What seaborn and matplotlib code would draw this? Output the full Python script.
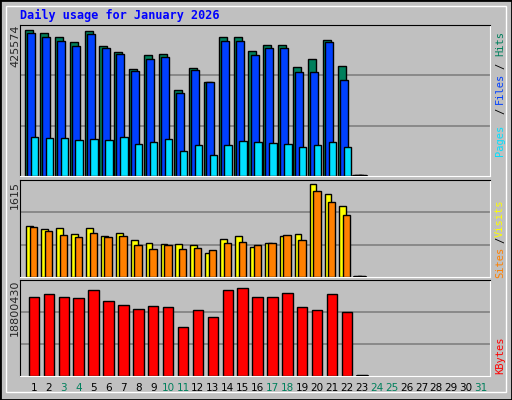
import numpy as np
import pandas as pd
import matplotlib
matplotlib.use('Agg')
import matplotlib.pyplot as plt
import seaborn as sns

days = list(range(1, 32))
hits = [421232, 412547, 403861, 389385, 418337, 377804, 360433, 311217, 348855, 354645,
        248982, 314112, 273579, 403861, 403861, 363328, 380699, 380699, 316007, 339168,
        395175, 319902, 0]
files = [412547, 403861, 392280, 377804, 409652, 371014, 354645, 305427, 340063, 345853,
         240297, 308322, 272384, 392280, 392280, 350763, 369493, 369493, 300217, 300217,
         389385, 277474, 0]
pages = [112917, 110022, 110022, 104232, 107127, 104232, 112917, 92651, 98441, 107127,
         72389, 89756, 60804, 89756, 101336, 98441, 95546, 92651, 83966, 89756,
         98441, 83966, 0]
visits = [885, 833, 851, 747, 851, 712, 764, 642, 590, 573, 573, 555, 417, 660, 712, 521,
          590, 712, 747, 1615, 1441, 1233, 0]
sites = [868, 799, 729, 694, 764, 694, 712, 555, 486, 555, 486, 503, 469, 590, 608, 555,
         590, 729, 642, 1494, 1302, 1077, 0]
kbytes = [16230000, 16762000, 16054000, 15876000, 17649000, 15345000, 14458000, 13749000,
          14281000, 14104000, 10026000, 13395000, 11977000, 17649000, 18000430, 16054000,
          16054000, 16940000, 14104000, 13395000, 16762000, 13040000, 0]
weekend = [3, 4, 10, 11, 17, 18, 24, 25, 31]

sns.set_style('white')
plt.rcParams['font.family'] = ['DejaVu Sans Mono', 'DejaVu Sans']

BG = '#C0C0C0'
fig = plt.figure(figsize=(5.12, 4.0), dpi=100, facecolor=BG)
# bevelled frame
fig.add_artist(plt.Rectangle((0, 0), 1, 1, transform=fig.transFigure, fill=False,
                             edgecolor='black', lw=2))
fig.add_artist(plt.Rectangle((0.012, 0.02), 0.976, 0.965, transform=fig.transFigure,
                             fill=False, edgecolor='white', lw=1))
fig.text(20 / 512, 1 - 15 / 400, 'Daily usage for January 2026', color='#0000FF',
         fontsize=8.5, fontweight='bold', va='center', ha='left')


def make_ax(top, bottom):
    ax = fig.add_axes([20 / 512, 1 - bottom / 400, 470 / 512, (bottom - top) / 400])
    ax.set_facecolor(BG)
    ax.set_xlim(0.06, 31.6)
    for s in ['left', 'top']:
        ax.spines[s].set_color('black')
    for s in ['right', 'bottom']:
        ax.spines[s].set_color('white')
    ax.set_xticks([])
    ax.set_yticks([])
    return ax


def gridlines(ax, top):
    for f in (1 / 3, 2 / 3):
        ax.axhline(top * f, color='#808080', lw=1.2, zorder=0)


def add_bars(ax, vals, off, width, color):
    n = len(vals)
    x = np.array(days[:n]) + off
    for xi, v in zip(x, vals):
        if v == 0:
            ax.plot([xi - width / 2, xi + width / 2], [0, 0], color='black', lw=2.5, zorder=3)
    ax.bar(x, vals, width=width, color=color, edgecolor='black', linewidth=1, align='center', zorder=2)


def side(y, s, color='black'):
    fig.text(500 / 512, 1 - y / 400, s, rotation=90, color=color, fontsize=7.5,
             va='center', ha='center')


def left(y, s):
    fig.text(15 / 512, 1 - y / 400, s, rotation=90, fontsize=8, va='center', ha='center',
             family='DejaVu Sans')


# panel 1: hits/files/pages
ax1 = make_ax(25, 176)
top1 = 425574 * 151 / 147
ax1.set_ylim(0, top1)
gridlines(ax1, top1)
add_bars(ax1, hits, -0.34, 0.54, '#00805C')
add_bars(ax1, files, -0.2, 0.54, '#0040FF')
add_bars(ax1, pages, 0.03, 0.5, '#00E0FF')
left(46, '425574')
side(140, 'Pages', '#00E0FF')
side(111, '/')
side(88, 'Files', '#0040FF')
side(66, '/')
side(43, 'Hits', '#00805C')

# panel 2: visits/sites
ax2 = make_ax(180, 277)
top2 = 1615 * 97 / 93
ax2.set_ylim(0, top2)
gridlines(ax2, top2)
add_bars(ax2, visits, -0.28, 0.45, '#FFFF00')
add_bars(ax2, sites, -0.02, 0.5, '#FF8000')
left(195, '1615')
side(262, 'Sites', '#FF8000')
side(240, '/')
side(218, 'Visits', '#FFFF00')

# panel 3: kbytes via seaborn
ax3 = make_ax(280, 376)
top3 = 18800430 * 96 / 92
df = pd.DataFrame({'day': days[:len(kbytes)], 'kbytes': kbytes})
ax3.set_ylim(0, top3)
gridlines(ax3, top3)
sns.barplot(data=df, x='day', y='kbytes', native_scale=True, width=0.7, color='#FF0000',
            saturation=1, edgecolor='black', linewidth=1, ax=ax3, zorder=2)
ax3.plot([22.65, 23.35], [0, 0], color='black', lw=2.5, zorder=3)
ax3.set_xlim(0.06, 31.6)
ax3.set_xlabel('')
ax3.set_ylabel('')
ax3.set_xticks([])
ax3.set_yticks([])
left(308, '18800430')
side(355, 'KBytes', '#FF0000')

# day labels
for d in days:
    xp = (20 + (d - 0.06) / (31.6 - 0.06) * 470) / 512
    fig.text(xp, 1 - 388 / 400, str(d), color='#00805C' if d in weekend else 'black',
             fontsize=7.5, ha='center', va='center', family='DejaVu Sans')

fig.savefig('out.png', dpi=100, facecolor=BG)
